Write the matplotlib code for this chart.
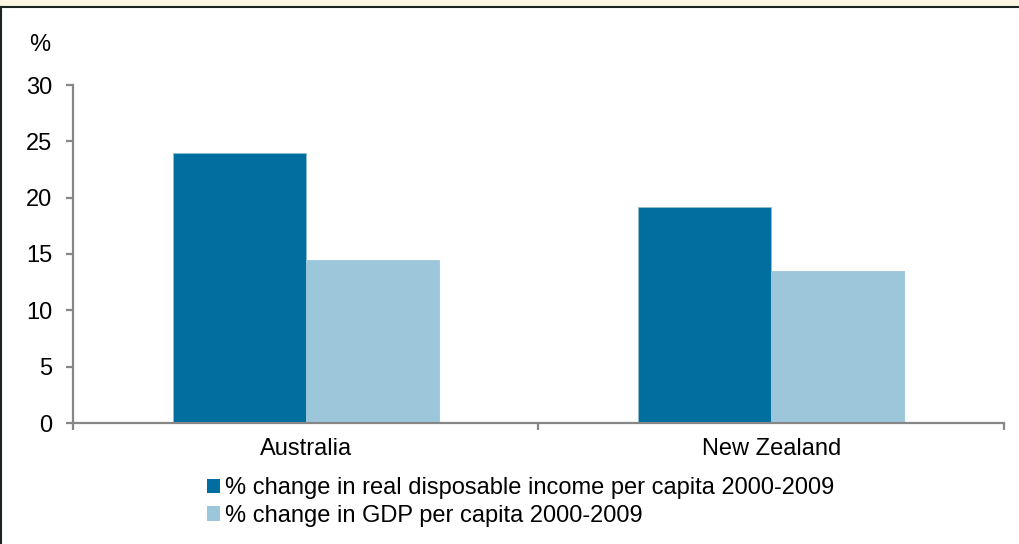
import numpy as np
import matplotlib.pyplot as plt
from matplotlib.patches import Rectangle, Patch

# data
countries = ["Australia", "New Zealand"]
income = [24.0, 19.2]
gdp = [14.5, 13.5]
series_names = ["% change in real disposable income per capita 2000-2009",
                "% change in GDP per capita 2000-2009"]

plt.rcParams['font.family'] = ['Liberation Sans', 'DejaVu Sans']

dark = '#006FA0'
light = '#9CC7DA'
grey = '#878787'
fs = 17

fig = plt.figure(figsize=(10.2, 5.44), dpi=100)
ax = fig.add_axes([73/1020, 1 - 423/544, 931/1020, 338/544])

xpos = np.arange(len(countries))
width = 0.286
ax.bar(xpos - width/2, income, width=width, color=dark, edgecolor='#8fbdd3', linewidth=0.6)
ax.bar(xpos + width/2, gdp, width=width, color=light, edgecolor=light, linewidth=0.6)

ax.set_xlim(-0.5, 1.5)
ax.set_ylim(0, 30)
ax.set_yticks([0, 5, 10, 15, 20, 25, 30])
ax.set_xticks(xpos)
ax.set_xticklabels(countries, fontsize=fs)
ax.set_xticks([-0.5, 0.5, 1.5], minor=True)

for s in ['top', 'right']:
    ax.spines[s].set_visible(False)
for s in ['left', 'bottom']:
    ax.spines[s].set_color(grey)
    ax.spines[s].set_linewidth(1.6)

ax.tick_params(axis='y', length=5, width=1.6, color=grey, labelsize=fs, pad=10)
ax.tick_params(axis='x', which='major', length=0, labelsize=fs, pad=11)
ax.tick_params(axis='x', which='minor', length=5, width=1.6, color=grey)

fig.text(40/1020, 1 - 45/544, '%', fontsize=fs, ha='center', va='center')

handles = [Patch(facecolor=dark), Patch(facecolor=light)]
fig.legend(handles, series_names, loc='upper left',
           bbox_to_anchor=(207/1020, 1 - 477/544), frameon=False,
           fontsize=fs, handlelength=0.55, handleheight=0.55,
           handletextpad=0.2, labelspacing=0.25, borderpad=0, borderaxespad=0)

# figure frame: cream strip at top, dark rules on top and left
fig.patches.append(Rectangle((0, 1 - 6/544), 1, 6/544, transform=fig.transFigure,
                             facecolor='#FAF6E3', edgecolor='none', zorder=0))
fig.lines.append(plt.Line2D([0, 1], [1 - 7/544, 1 - 7/544], transform=fig.transFigure,
                            color='#1c2422', linewidth=1.5))
fig.lines.append(plt.Line2D([1.5/1020, 1.5/1020], [0, 1 - 7/544], transform=fig.transFigure,
                            color='#1c2422', linewidth=1.5))

plt.savefig('out.png', dpi=100)
